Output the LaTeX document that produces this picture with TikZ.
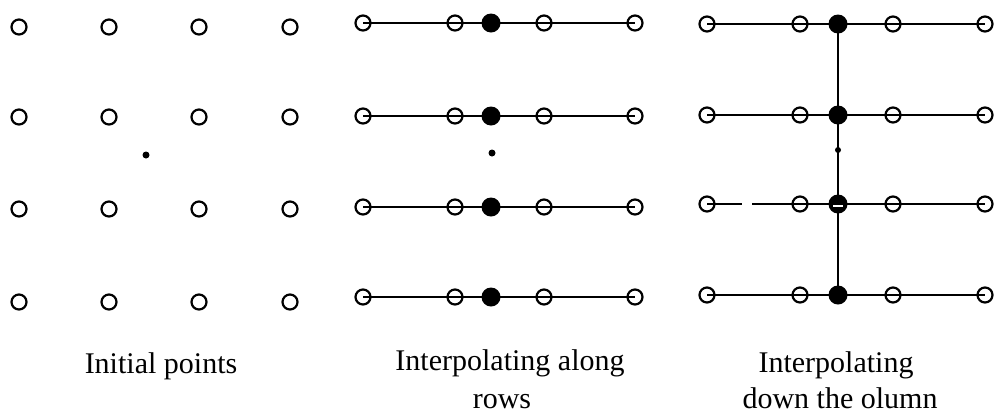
\documentclass[tikz,border=0pt]{standalone}
\usepackage{fontspec}
\setmainfont{Liberation Serif}
\begin{document}
\begin{tikzpicture}[x=1pt,y=-1pt,
  opencirc/.style={circle,draw=black,line width=2.2pt,fill=none,minimum size=15pt,inner sep=0pt},
  fullcirc/.style={circle,fill=black,minimum size=19pt,inner sep=0pt},
  tinydot/.style={circle,fill=black,minimum size=7pt,inner sep=0pt},
  rowline/.style={line width=1.8pt},
  caption/.style={font=\fontsize{30}{37}\selectfont,align=center,anchor=base}]
\useasboundingbox (0,0) rectangle (995,416);
% Panel 1: initial points
\foreach \y [count=\r] in {27,117,209,302}{
  \foreach \x [count=\c] in {19,109,199,290}{
    \node[opencirc] (p\r c\c) at (\x,\y) {};
  }
}
\node[tinydot] (pdot) at (146,155) {};
% Panel 2: interpolating along rows
\foreach \y [count=\r] in {23,116,207,297}{
  \coordinate (q\r a) at (363,\y);
  \coordinate (q\r b) at (455,\y);
  \coordinate (q\r m) at (491,\y);
  \coordinate (q\r d) at (544,\y);
  \coordinate (q\r e) at (635,\y);
  \draw[rowline] (q\r a) -- (q\r e);
  \node[opencirc] (Q\r a) at (q\r a) {};
  \node[opencirc] (Q\r b) at (q\r b) {};
  \node[fullcirc] (Q\r m) at (q\r m) {};
  \node[opencirc] (Q\r d) at (q\r d) {};
  \node[opencirc] (Q\r e) at (q\r e) {};
}
\node[tinydot] (qdot) at (492,153) {};
% Panel 3: interpolating down the column
\foreach \y [count=\r] in {24,115,204,295}{
  \coordinate (s\r a) at (707,\y);
  \coordinate (s\r b) at (800,\y);
  \coordinate (s\r m) at (838,\y);
  \coordinate (s\r d) at (893,\y);
  \coordinate (s\r e) at (985,\y);
}
\coordinate (gapL) at (742,204);
\coordinate (gapR) at (752,204);
\draw[rowline] (s1a) -- (s1e);
\draw[rowline] (s2a) -- (s2e);
\draw[rowline] (s3a) -- (gapL);
\draw[rowline] (gapR) -- (s3e);
\draw[rowline] (s4a) -- (s4e);
\draw[rowline] (s1m) -- (s4m);
\foreach \r in {1,2,3,4}{
  \node[opencirc] (S\r a) at (s\r a) {};
  \node[opencirc] (S\r b) at (s\r b) {};
  \node[fullcirc] (S\r m) at (s\r m) {};
  \node[opencirc] (S\r d) at (s\r d) {};
  \node[opencirc] (S\r e) at (s\r e) {};
}
\draw[white,line width=2pt] ([xshift=-5pt,yshift=-2pt]S3m.center) -- ([xshift=5pt,yshift=-2pt]S3m.center);
\node[tinydot,minimum size=6pt] (sdot) at (838,150) {};
% Captions
\node[caption] (cap1) at (161,373) {Initial points};
\node[caption] (cap2a) at (510,370) {Interpolating along};
\node[caption] (cap2b) at (502,408) {rows};
\node[caption] (cap3a) at (836,372) {Interpolating};
\node[caption] (cap3b) at (840,408) {down the olumn};
\end{tikzpicture}
\end{document}
